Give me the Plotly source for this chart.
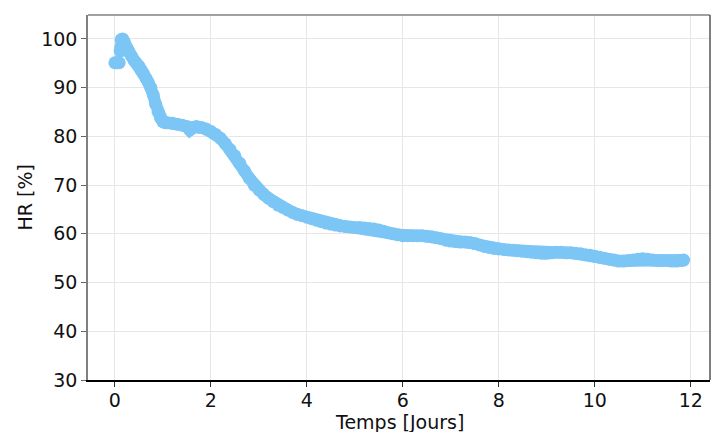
import plotly.graph_objects as go

# Time in days and relative humidity (%)
# initial plateau before the jump
temps_debut = [0.0, 0.03, 0.06, 0.09]
hr_debut = [95.1, 95.1, 95.1, 95.1]

# main record
temps_jours = [0.11, 0.12, 0.13, 0.16, 0.19, 0.22, 0.26,
               0.3, 0.35, 0.4, 0.45, 0.5, 0.55, 0.6, 0.65, 0.7, 0.75, 0.8, 0.85, 0.9, 0.95,
               1.0, 1.05, 1.1, 1.2, 1.3, 1.4, 1.5, 1.56, 1.62, 1.7, 1.8, 1.9, 2.0, 2.1,
               2.2, 2.3, 2.4, 2.5, 2.6, 2.7, 2.8, 2.9, 3.0, 3.1, 3.2, 3.3, 3.4, 3.5,
               3.6, 3.7, 3.8, 3.9, 4.0, 4.1, 4.2, 4.3, 4.4, 4.5, 4.6, 4.7, 4.8, 4.9,
               5.0, 5.1, 5.2, 5.3, 5.4, 5.5, 5.6, 5.7, 5.8, 5.9, 6.0, 6.1, 6.2, 6.3,
               6.4, 6.5, 6.6, 6.7, 6.8, 6.9, 7.0, 7.1, 7.2, 7.3, 7.4, 7.5, 7.6, 7.7,
               7.8, 7.9, 8.0, 8.1, 8.2, 8.3, 8.4, 8.5, 8.6, 8.7, 8.8, 8.9, 9.0, 9.1,
               9.2, 9.3, 9.4, 9.5, 9.6, 9.7, 9.8, 9.9, 10.0, 10.1, 10.2, 10.3, 10.4,
               10.5, 10.6, 10.7, 10.8, 10.9, 11.0, 11.1, 11.2, 11.3, 11.4, 11.5, 11.6,
               11.7, 11.8, 11.85]
hr_pourcent = [97.5, 98.2, 99.8, 100.0, 99.5, 98.6, 97.9,
               97.2, 96.4, 95.6, 95.0, 94.4, 93.6, 92.8, 91.9, 91.0, 90.0, 88.5, 86.6, 85.0, 83.8,
               83.0, 82.8, 82.8, 82.7, 82.5, 82.3, 82.0, 81.3, 81.8, 82.0, 81.8, 81.5, 81.0, 80.4,
               79.6, 78.5, 77.3, 76.0, 74.5, 72.9, 71.4, 70.0, 69.0, 68.1, 67.3, 66.6, 65.9, 65.4,
               64.9, 64.4, 64.0, 63.7, 63.4, 63.1, 62.8, 62.5, 62.2, 62.0, 61.8, 61.6, 61.5, 61.4,
               61.3, 61.3, 61.2, 61.1, 61.0, 60.8, 60.5, 60.2, 60.0, 59.8, 59.6, 59.6, 59.6, 59.6,
               59.6, 59.5, 59.4, 59.2, 59.0, 58.7, 58.5, 58.4, 58.3, 58.3, 58.2, 58.0, 57.7, 57.4,
               57.2, 57.0, 56.9, 56.8, 56.7, 56.6, 56.5, 56.4, 56.3, 56.2, 56.1, 56.0, 56.0, 56.1,
               56.2, 56.2, 56.1, 56.1, 56.0, 55.9, 55.7, 55.6, 55.4, 55.2, 55.0, 54.8, 54.6,
               54.4, 54.4, 54.5, 54.6, 54.8, 54.9, 54.8, 54.6, 54.5, 54.5, 54.5, 54.4,
               54.4, 54.5, 54.6]

x_ticks = [0, 2, 4, 6, 8, 10, 12]
y_ticks = [30, 40, 50, 60, 70, 80, 90, 100]
x_titre = "Temps [Jours]"
y_titre = "HR [%]"

font_family = "DejaVu Sans"
couleur = "#7CC6F6"

fig = go.Figure()
# thin connector between the initial plateau and the main record
fig.add_trace(go.Scatter(
    x=[temps_debut[-1], temps_jours[0]], y=[hr_debut[-1], hr_pourcent[0]], mode="lines",
    line=dict(color=couleur, width=4), showlegend=False, hoverinfo="skip",
))
fig.add_trace(go.Scatter(
    x=temps_debut, y=hr_debut, mode="markers",
    marker=dict(size=13, color=couleur, line=dict(width=0)),
    showlegend=False,
))
fig.add_trace(go.Scatter(
    x=temps_jours, y=hr_pourcent, mode="lines+markers",
    line=dict(color=couleur, width=12),
    marker=dict(size=13, color=couleur, line=dict(width=0)),
    showlegend=False,
))

# the page body adds an 8px offset; size the figure to fill the rest of the window
fig.update_layout(
    width=711, height=424,
    margin=dict(l=80, r=9, t=7, b=52),
    paper_bgcolor="white", plot_bgcolor="white",
    font=dict(family=font_family, size=19, color="#111111"),
    xaxis=dict(
        range=[-0.56, 12.4], tickvals=x_ticks, ticktext=[str(v) for v in x_ticks],
        showgrid=True, gridcolor="#e6e6e6", gridwidth=1, zeroline=False,
        showline=True, linecolor="#000000", linewidth=1.5,
        ticks="outside", ticklen=5, tickcolor="#333333",
        ticklabelstandoff=-3,
        automargin=False,
    ),
    yaxis=dict(
        range=[30, 104.9], tickvals=y_ticks, ticktext=[str(v) for v in y_ticks],
        showgrid=True, gridcolor="#e6e6e6", gridwidth=1, zeroline=False,
        showline=True, linecolor="#808080", linewidth=1.5,
        ticks="outside", ticklen=5, tickcolor="#666666",
        automargin=False,
    ),
    shapes=[
        dict(type="line", xref="paper", yref="paper", x0=0, x1=1, y0=1, y1=1,
             line=dict(color="#808080", width=1.5)),
        dict(type="line", xref="paper", yref="paper", x0=1, x1=1, y0=0, y1=1,
             line=dict(color="#555555", width=1.5)),
    ],
    annotations=[
        dict(text=x_titre, xref="paper", yref="paper", x=0.5, y=0,
             xanchor="center", yanchor="middle", yshift=-42, showarrow=False,
             font=dict(size=19)),
        dict(text=y_titre, xref="paper", yref="paper", x=0, y=0.5,
             xanchor="center", yanchor="middle", xshift=-64, textangle=-90,
             showarrow=False, font=dict(size=19)),
    ],
)

fig.write_html("out.html")
